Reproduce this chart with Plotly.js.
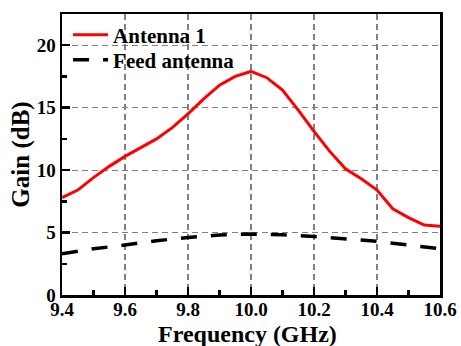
<!DOCTYPE html>
<html><head><meta charset="utf-8">
<script src="https://cdn.plot.ly/plotly-3.0.1.min.js"></script>
<style>body{margin:0;background:#fff}#c{width:461px;height:346px}</style>
</head><body><div id="c"></div>
<script>
const freqA = [9.4,9.45,9.5,9.55,9.6,9.65,9.7,9.75,9.8,9.85,9.9,9.95,10.0,10.05,10.1,10.15,10.2,10.25,10.3,10.35,10.4,10.45,10.5,10.55,10.6];
const gainA = [7.8,8.4,9.4,10.3,11.1,11.8,12.5,13.4,14.5,15.7,16.8,17.5,17.9,17.4,16.4,14.8,13.1,11.5,10.1,9.3,8.4,6.9,6.2,5.6,5.5];
const freqF = [9.4,9.5,9.6,9.7,9.8,9.9,10.0,10.1,10.2,10.3,10.4,10.5,10.6];
const gainF = [3.3,3.7,4.0,4.35,4.6,4.8,4.88,4.82,4.68,4.5,4.3,4.0,3.7];
const xTicks = [9.4,9.6,9.8,10.0,10.2,10.4,10.6];
const xTickText = ['9.4','9.6','9.8','10.0','10.2','10.4','10.6'];
const xMinor = [9.5,9.7,9.9,10.1,10.3,10.5];
const yTicks = [0,5,10,15,20];
const yMinor = [2.5,7.5,12.5,17.5];
const xTitle = 'Frequency (GHz)';
const yTitle = 'Gain (dB)';

const FAM = 'Liberation Serif';
const traces = [
  {x:freqA, y:gainA, name:'<b>Antenna 1</b>', mode:'lines', legend:'legend', line:{color:'#ff0000', width:3}},
  {x:freqF, y:gainF, name:'<b>Feed antenna</b>', mode:'lines', legend:'legend2', line:{color:'#000', width:3.5, dash:'16px,14px'}}
];
const axisCommon = {
  showline:true, mirror:true, linecolor:'#000', linewidth:2.5,
  ticks:'inside', ticklen:8, tickwidth:2.5, tickcolor:'#000',
  showgrid:true, gridcolor:'#808080', griddash:'6px,4px', gridwidth:1.2,
  zeroline:false, tickfont:{family:FAM, size:19, color:'#000'}
};
const legFont = {family:FAM, size:21, color:'#000'};
const layout = {
  width:461, height:346,
  font:{family:FAM, color:'#000'},
  margin:{l:62, r:21, t:14, b:51},
  paper_bgcolor:'#fff', plot_bgcolor:'#fff',
  showlegend:true,
  legend:{x:0.016, y:0.925, xanchor:'left', yanchor:'middle', itemwidth:35, bgcolor:'rgba(0,0,0,0)', font:legFont},
  legend2:{x:0.016, y:0.836, xanchor:'left', yanchor:'middle', itemwidth:35, bgcolor:'rgba(0,0,0,0)', font:legFont},
  xaxis:Object.assign({}, axisCommon, {
    range:[9.4,10.6], tickvals:xTicks, ticktext:xTickText.map(t=>'<b>'+t+'</b>'),
    ticklabelstandoff:-4,
    minor:{tickvals:xMinor, ticks:'inside', ticklen:5, tickwidth:2.5, tickcolor:'#000'}
  }),
  yaxis:Object.assign({}, axisCommon, {
    range:[0,22.5], tickvals:yTicks, ticktext:yTicks.map(t=>'<b>'+t+'</b>'),
    ticklabelstandoff:0,
    minor:{tickvals:yMinor, ticks:'inside', ticklen:5, tickwidth:2.5, tickcolor:'#000'},
    title:{text:'<b>'+yTitle+'</b>', font:{family:FAM, size:25, color:'#000'}, standoff:0}
  }),
  annotations:[{
    text:'<b>'+xTitle+'</b>', xref:'paper', yref:'paper', x:0.49, y:-0.19,
    xanchor:'center', yanchor:'bottom', showarrow:false, borderpad:0,
    font:{family:FAM, size:24, color:'#000'}
  }]
};
Plotly.newPlot('c', traces, layout, {displayModeBar:false, staticPlot:true});
</script></body></html>
